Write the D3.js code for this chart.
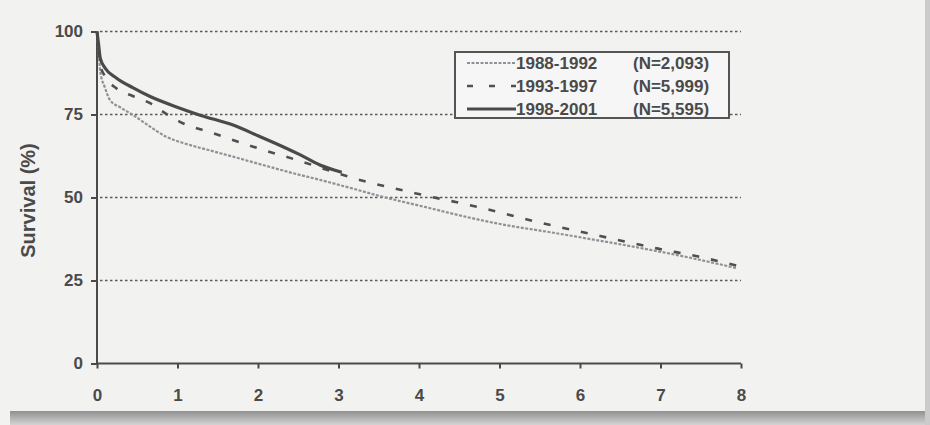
<!DOCTYPE html>
<html><head><meta charset="utf-8">
<script src="https://cdn.jsdelivr.net/npm/d3@7/dist/d3.min.js"></script>
<style>
html,body{margin:0;padding:0;background:#e9e9e9;}
svg{display:block;font-family:"Liberation Sans",Arial,sans-serif;}
</style></head>
<body>
<svg id="chart" width="930" height="425"></svg>
<script>
// Data (years, survival %)
const seriesNames = ["1988-1992", "1993-1997", "1998-2001"];
const seriesN = ["(N=2,093)", "(N=5,999)", "(N=5,595)"];
const xTicks = [0,1,2,3,4,5,6,7,8];
const yTicks = [0,25,50,75,100];

const years1988 = [0, 0.02, 0.04, 0.1, 0.16, 0.3, 0.45, 0.65, 0.86, 1.1, 1.4, 1.69, 2.0, 2.44, 2.77, 3.1, 3.55, 4.1, 4.67, 5.1, 5.59, 6.1, 6.66, 7.3, 7.95];
const surv1988  = [100, 94, 88, 83, 79.4, 77, 74.8, 71.5, 68.3, 66.2, 64.2, 62.3, 60.2, 57.3, 55.3, 53.2, 50.2, 47.0, 43.7, 41.6, 39.7, 37.6, 35.2, 32.2, 28.7];

const years1993 = [0, 0.02, 0.04, 0.1, 0.24, 0.45, 0.66, 0.86, 1.03, 1.44, 1.94, 2.48, 3.22, 3.95, 4.72, 5.46, 6.25, 6.97, 7.47, 8.0];
const surv1993  = [100, 95, 89.9, 86.5, 82.9, 80.5, 78.4, 75.2, 72.8, 69.4, 65.3, 61.3, 55.6, 51.3, 47.2, 42.7, 38.4, 34.6, 32.2, 29.2];

const years1998 = [0, 0.02, 0.04, 0.1, 0.24, 0.45, 0.66, 1.03, 1.28, 1.69, 2.0, 2.31, 2.52, 2.77, 3.04];
const surv1998  = [100, 96, 92, 89, 86, 83, 80.4, 76.9, 74.8, 71.8, 68.6, 65.3, 62.9, 59.8, 57.6];

const svg = d3.select("#chart");

// background panel with shadow
const defs = svg.append("defs");
const g1 = defs.append("linearGradient").attr("id","shadowB").attr("x1",0).attr("y1",0).attr("x2",0).attr("y2",1);
g1.append("stop").attr("offset","0%").attr("stop-color","#909090");
g1.append("stop").attr("offset","100%").attr("stop-color","#d4d4d4");
svg.append("rect").attr("x",0).attr("y",0).attr("width",930).attr("height",425).attr("fill","#f2f2f1");
svg.append("rect").attr("x",10).attr("y",411).attr("width",920).attr("height",14).attr("fill","url(#shadowB)");
svg.append("rect").attr("x",925).attr("y",0).attr("width",5).attr("height",425).attr("fill","#cbcbcb");

const x = d3.scaleLinear().domain([0,8]).range([97,741]);
const y = d3.scaleLinear().domain([0,100]).range([363.5,31.5]);

const ink = "#4a4a4a";
const fontFam = "'Liberation Sans',Arial,sans-serif";

// gridlines
svg.append("g").selectAll("line").data(yTicks.filter(d=>d>0)).join("line")
  .attr("x1", x(0)+3).attr("x2", x(8)).attr("y1", d=>y(d)).attr("y2", d=>y(d))
  .attr("stroke","#5a5a5a").attr("stroke-width",1.4).attr("stroke-dasharray","2.5,2.5");

// axes
const yAxis = d3.axisLeft(y).tickValues(yTicks).tickSize(6).tickPadding(8);
const gy = svg.append("g").attr("transform",`translate(${x(0)},0)`).call(yAxis);
const xAxis = d3.axisBottom(x).tickValues(xTicks).tickSize(5).tickPadding(20);
const gx = svg.append("g").attr("transform",`translate(0,${y(0)})`).call(xAxis);
[gx, gy].forEach(g=>{
  g.attr("font-size",17).attr("font-family",fontFam);
  g.select(".domain").attr("stroke",ink).attr("stroke-width",2);
  g.selectAll(".tick line").attr("stroke",ink).attr("stroke-width",2);
  g.selectAll("text").attr("fill",ink).attr("font-size",17).attr("font-weight","bold")
    .attr("font-family",fontFam);
});
gx.select(".domain").attr("d",`M${x(0)},0H${x(8)}`);
gy.select(".domain").attr("d",`M0,${y(0)}V${y(100)}`);

svg.append("text").attr("transform",`translate(35,${(y(0)+y(100))/2+3}) rotate(-90)`)
  .attr("text-anchor","middle").attr("fill",ink).attr("font-size",20).attr("font-weight","bold")
  .attr("font-family",fontFam)
  .text("Survival (%)");

// curves
const line = d3.line().x(d=>x(d[0])).y(d=>y(d[1])).curve(d3.curveMonotoneX);
const styles = [
  {stroke:"#8e9296", width:2.2, dash:"3,1.5"},
  {stroke:"#505050", width:2.6, dash:"7,12"},
  {stroke:"#4a4a4a", width:3.2, dash:null}
];
const data = [
  d3.zip(years1988, surv1988),
  d3.zip(years1993, surv1993),
  d3.zip(years1998, surv1998)
];
data.forEach((d,i)=>{
  svg.append("path").datum(d).attr("d",line).attr("fill","none")
    .attr("stroke",styles[i].stroke).attr("stroke-width",styles[i].width)
    .attr("stroke-dasharray",styles[i].dash).attr("stroke-linejoin","round");
});

// legend
const lg = svg.append("g");
lg.append("rect").attr("x",455).attr("y",52).attr("width",274).attr("height",66)
  .attr("fill","#f6f6f6").attr("stroke","#555").attr("stroke-width",2);
seriesNames.forEach((s,i)=>{
  const cy = 63 + i*23;
  lg.append("line").attr("x1",467).attr("x2",516).attr("y1",cy).attr("y2",cy)
    .attr("stroke",styles[i].stroke).attr("stroke-width",styles[i].width)
    .attr("stroke-dasharray", i===1 ? "6,16" : styles[i].dash);
  lg.append("text").attr("x",516).attr("y",cy+6).attr("fill",ink).attr("font-size",17)
    .attr("font-weight","bold").attr("font-family",fontFam).text(s);
  lg.append("text").attr("x",633).attr("y",cy+6).attr("fill",ink).attr("font-size",17)
    .attr("font-weight","bold").attr("font-family",fontFam).text(seriesN[i]);
});
</script>
</body></html>
